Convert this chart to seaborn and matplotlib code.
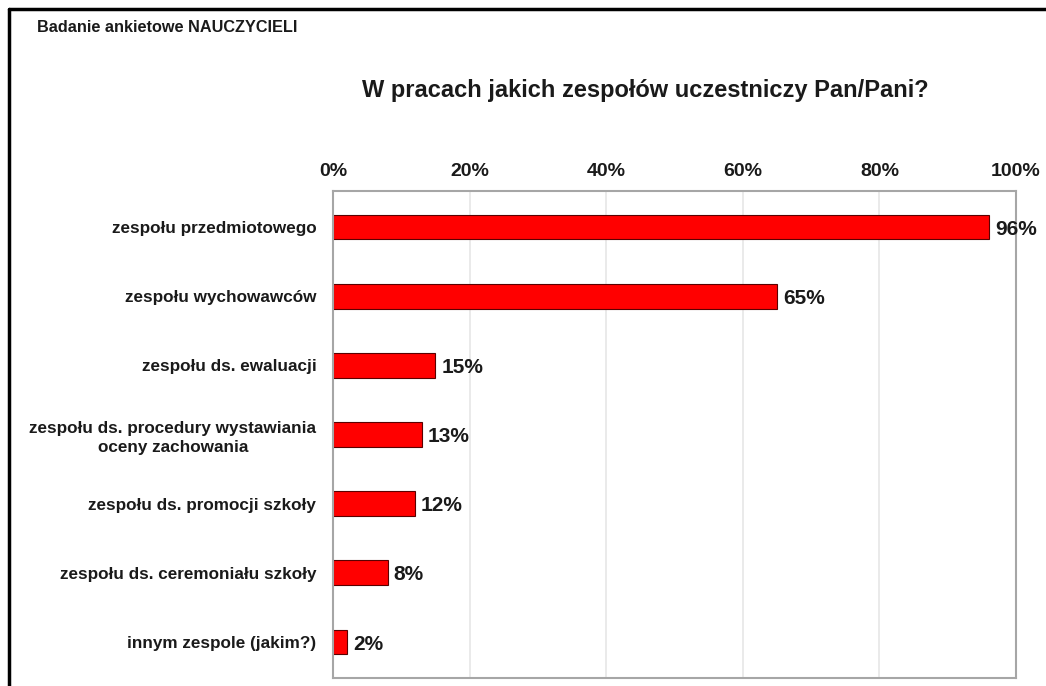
import matplotlib
matplotlib.use("Agg")
import matplotlib.pyplot as plt
import seaborn as sns
import pandas as pd
from matplotlib.lines import Line2D

categories = [
    "zespołu przedmiotowego",
    "zespołu wychowawców",
    "zespołu ds. ewaluacji",
    "zespołu ds. procedury wystawiania\noceny zachowania",
    "zespołu ds. promocji szkoły",
    "zespołu ds. ceremoniału szkoły",
    "innym zespole (jakim?)",
]
values = [96, 65, 15, 13, 12, 8, 2]
xticks = [0, 20, 40, 60, 80, 100]
xtick_labels = ["0%", "20%", "40%", "60%", "80%", "100%"]

sns.set_theme(style="white")
plt.rcParams['font.family'] = ['Liberation Sans', 'DejaVu Sans']

W, H = 1046, 686
fig = plt.figure(figsize=(W / 100, H / 100), dpi=100)
ax = fig.add_axes([333 / W, 1 - 678 / H, (1016 - 333) / W, (678 - 191) / H])

df = pd.DataFrame({"cat": categories, "val": values})
sns.barplot(data=df, x="val", y="cat", orient="h", color="#ff0000",
            edgecolor="#5a0000", linewidth=0.8, width=0.36, ax=ax, saturation=1)

ax.set_xlim(0, 100)
ax.set_ylim(6.52, -0.52)
ax.set_xticks(xticks)
ax.set_xticklabels(xtick_labels, fontsize=14, fontweight="bold", color="#1a1a1a")
ax.xaxis.tick_top()
ax.tick_params(axis="x", length=0, pad=8)
ax.tick_params(axis="y", length=0, pad=12)
for lab in ax.get_yticklabels():
    lab.set_fontweight("bold")
    lab.set_fontsize(12.3)
    lab.set_color("#1a1a1a")
    lab.set_horizontalalignment("right")
    lab.set_multialignment("center")
    lab.set_linespacing(1.3)
ax.set_xlabel("")
ax.set_ylabel("")
ax.grid(axis="x", color="#e6e6e6", linewidth=1.2)
ax.set_axisbelow(True)
for s in ax.spines.values():
    s.set_color("#a6a6a6")
    s.set_linewidth(1.5)
    s.set_visible(True)

for i, v in enumerate(values):
    ax.text(v + 0.9, i + 0.03, f"{v}%", va="center", ha="left",
            fontsize=15, fontweight="bold", color="#1a1a1a")

fig.text(645 / W, 1 - 90 / H, "W pracach jakich zespołów uczestniczy Pan/Pani?",
         ha="center", va="center", fontsize=17, fontweight="bold", color="#1a1a1a")
fig.text(37 / W, 1 - 27 / H, "Badanie ankietowe NAUCZYCIELI",
         ha="left", va="center", fontsize=11.7, fontweight="bold", color="#1a1a1a")

# outer frame (top and left edges, black)
fig.add_artist(Line2D([8.5 / W, 8.5 / W], [0, 1 - 8.5 / H], color="black",
                      linewidth=2.5, transform=fig.transFigure))
fig.add_artist(Line2D([8.5 / W, 1], [1 - 8.5 / H, 1 - 8.5 / H], color="black",
                      linewidth=2.5, transform=fig.transFigure))

fig.savefig("out.png", dpi=100)
